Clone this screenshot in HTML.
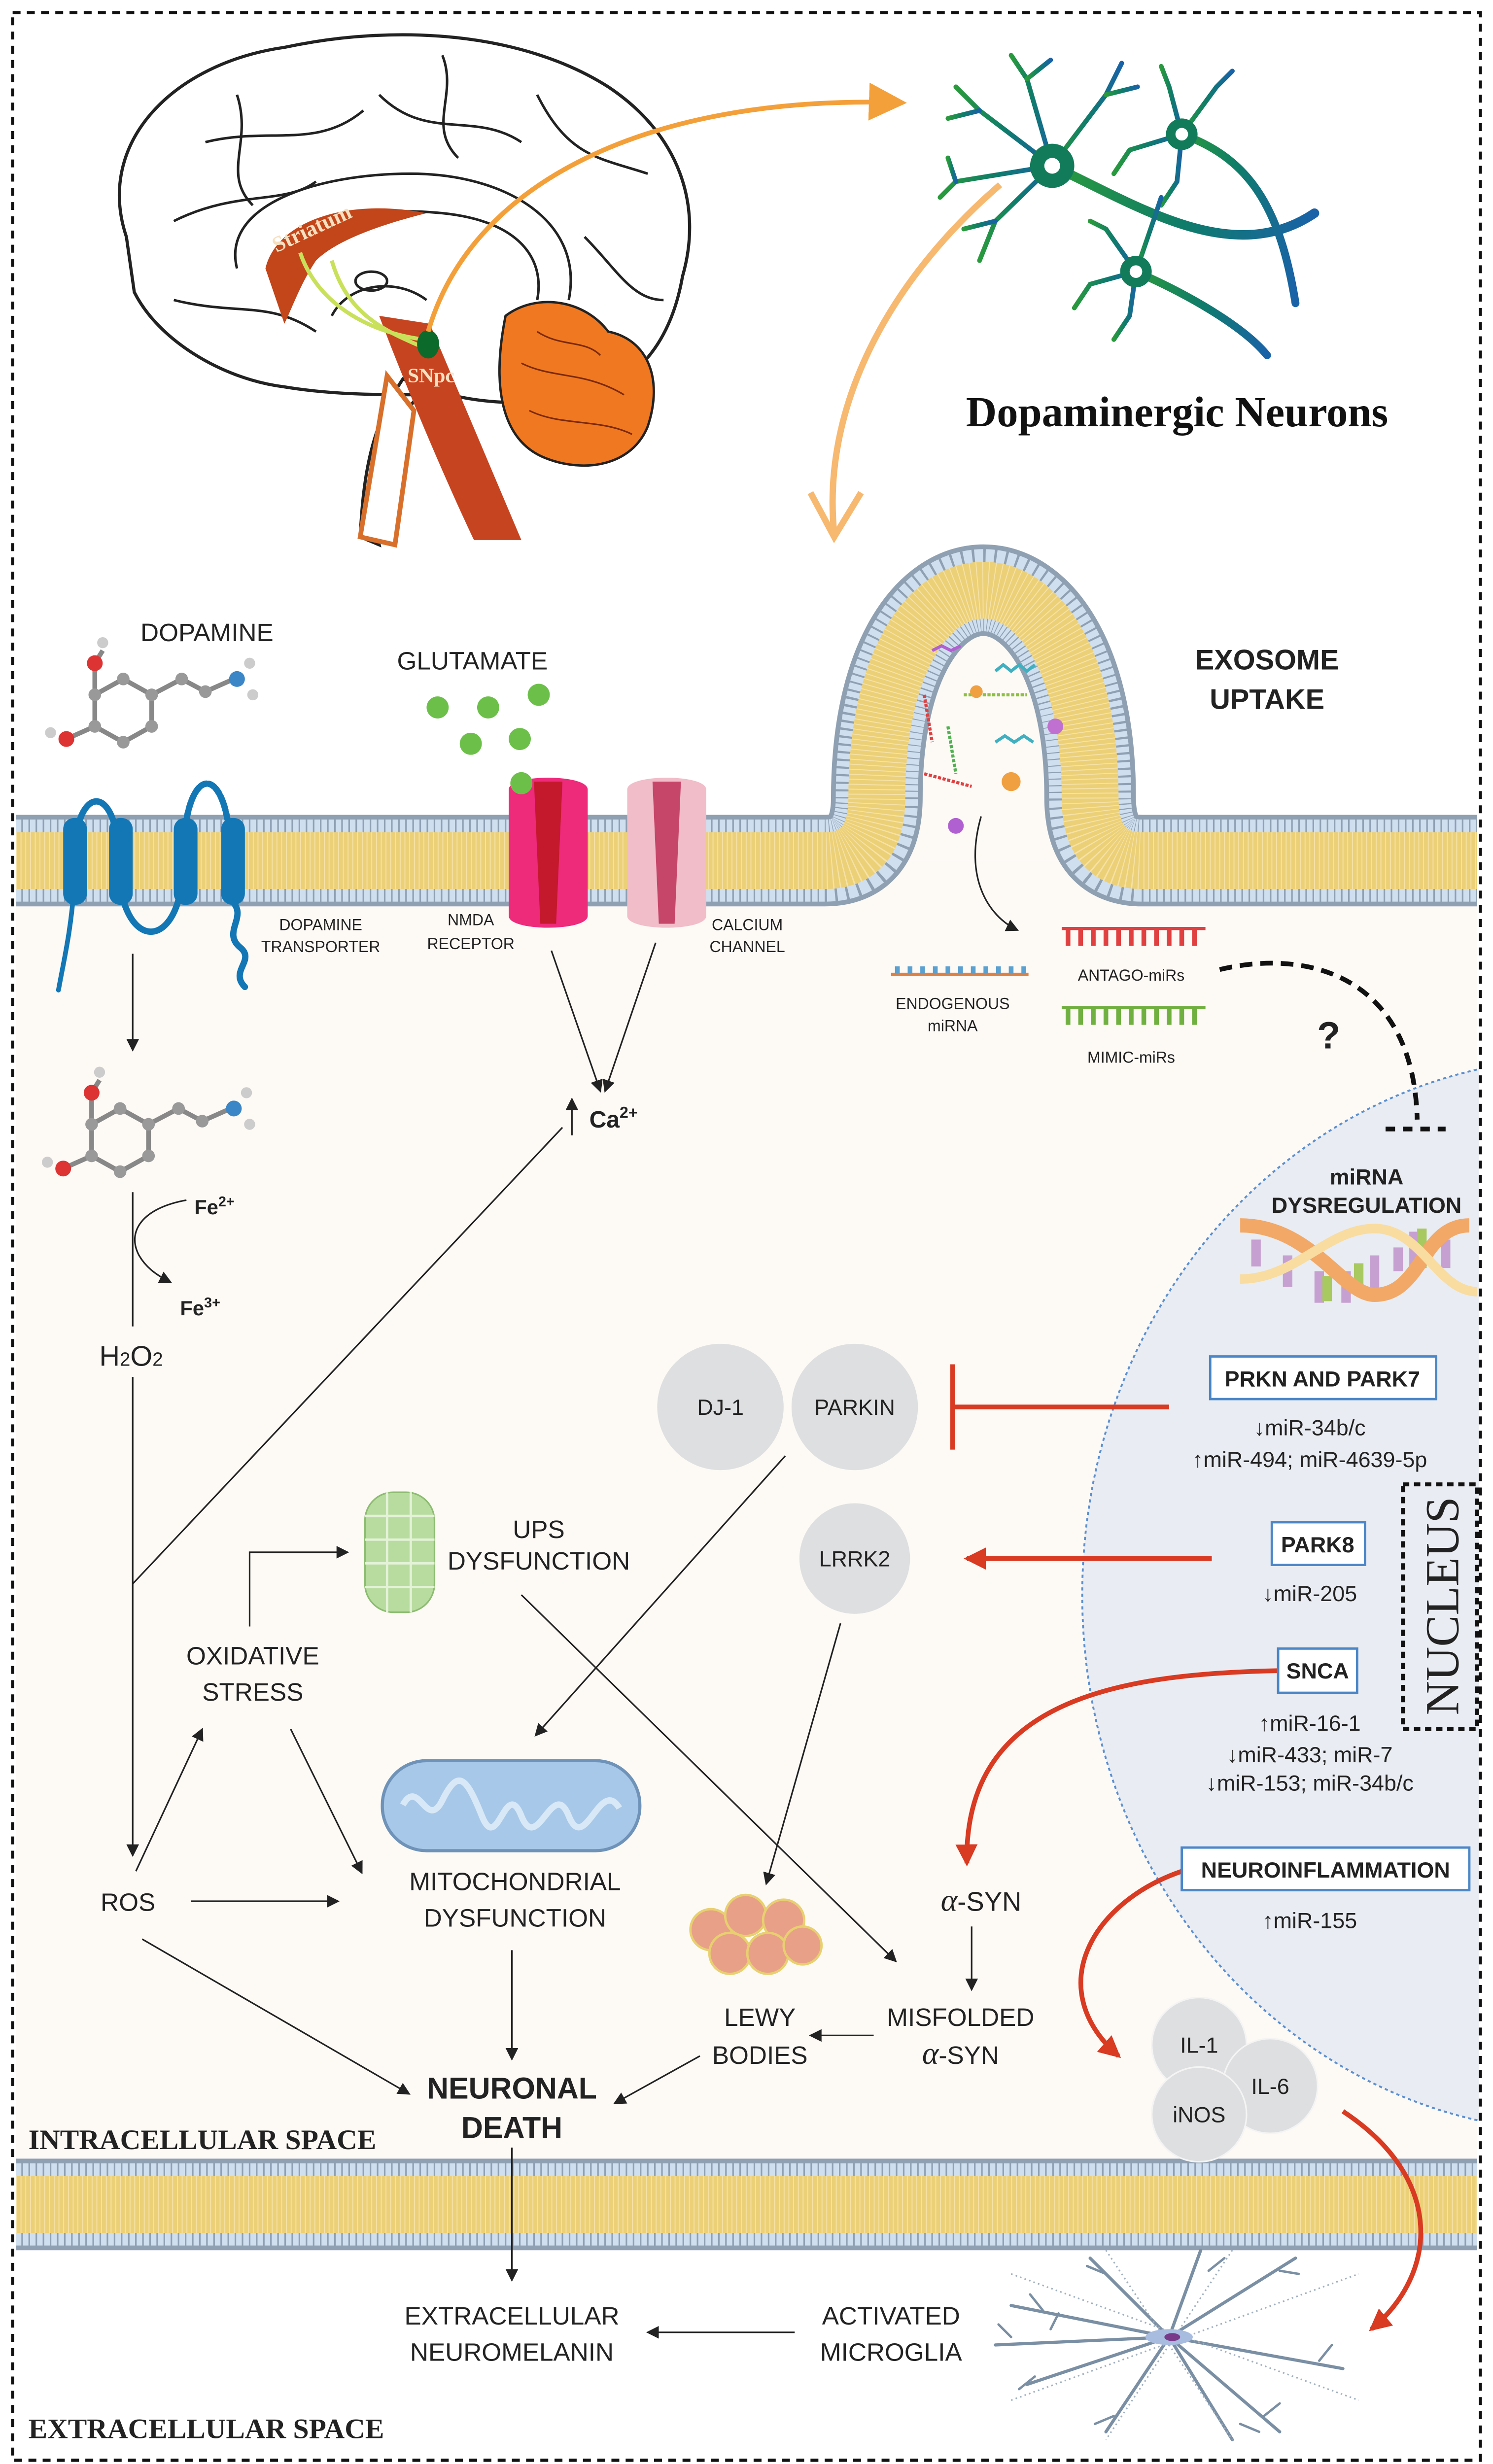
<!DOCTYPE html>
<html><head><meta charset="utf-8"><style>
html,body{margin:0;padding:0;background:#fff;width:3029px;height:5018px;overflow:hidden}
svg{display:block}
text{font-family:"Liberation Sans",sans-serif;fill:#222}
.s{font-family:"Liberation Serif",serif;font-weight:bold}
.l{font-size:16px;text-anchor:middle}
.sm{font-size:10px;text-anchor:middle}
.b{font-weight:bold}
</style></head><body>
<svg width="3029" height="5018" viewBox="0 0 945 1566" preserveAspectRatio="none" xmlns="http://www.w3.org/2000/svg">
<defs>
<marker id="a" markerWidth="8" markerHeight="8" refX="7" refY="4" orient="auto" markerUnits="userSpaceOnUse"><path d="M0,0 L8,4 L0,8 Z" fill="#222"/></marker>
<marker id="r" markerWidth="14" markerHeight="14" refX="12" refY="7" orient="auto" markerUnits="userSpaceOnUse"><path d="M0,0 L14,7 L0,14 Z" fill="#d93a22"/></marker>
<marker id="o" markerWidth="24" markerHeight="24" refX="20" refY="12" orient="auto" markerUnits="userSpaceOnUse"><path d="M0,0 L24,12 L0,24 Z" fill="#f4a03a"/></marker>
<linearGradient id="ng" x1="0" x2="1"><stop offset="0" stop-color="#2a9a3c"/><stop offset=".5" stop-color="#0f7c6a"/><stop offset="1" stop-color="#1a62a8"/></linearGradient>
</defs>
<rect width="945" height="1566" fill="#fff"/>
<rect x="10" y="545" width="925" height="851" fill="#fdfaf6"/>
<path d="M555,545 L555,505 C555,330 690,330 690,505 L690,545 Z" fill="#fdfaf6"/>
<clipPath id="nc"><rect x="0" y="0" width="936" height="1566"/></clipPath>
<ellipse cx="1000" cy="1010" rx="315" ry="340" fill="#e9ecf2" stroke="#5b8fd0" stroke-width="1.2" stroke-dasharray="2 2" clip-path="url(#nc)"/>
<rect x="8" y="8" width="929" height="1550" fill="none" stroke="#111" stroke-width="2" stroke-dasharray="5 4"/>

<!-- Brain -->
<g stroke="#222" stroke-width="2" fill="#fff">
<path d="M80,150 C60,90 110,40 180,30 C250,15 330,20 385,55 C430,85 445,130 432,175 C425,215 405,240 375,250 L330,255 C300,255 280,250 255,240 C235,270 230,300 228,340 L240,345 C230,300 250,270 265,250 C240,250 210,250 180,245 C140,240 100,215 85,185 Z"/>
</g>
<g stroke="#222" stroke-width="1.6" fill="none">
<path d="M110,140 C150,120 180,130 200,115"/><path d="M130,90 C170,80 200,95 230,70"/><path d="M240,60 C270,90 300,70 330,90"/><path d="M340,60 C360,100 380,100 410,110"/><path d="M110,190 C150,200 170,190 200,210"/><path d="M370,150 C390,170 400,190 420,190"/><path d="M150,60 C160,90 140,110 160,130"/><path d="M280,35 C290,60 270,80 290,100"/><path d="M150,170 C140,130 200,110 260,110 C320,110 370,140 360,190"/><path d="M175,170 C180,140 230,130 280,135 C330,140 345,165 340,190"/><path d="M210,200 C220,180 250,175 270,190"/><ellipse cx="235" cy="178" rx="10" ry="6"/>
</g>
<path d="M168,170 C175,140 220,125 270,135 C250,140 215,150 200,165 C190,180 185,195 180,205 Z" fill="#c2461a"/>
<path d="M240,200 L272,205 L330,342 L300,342 C280,300 255,240 240,200 Z" fill="#c74420"/>
<path d="M245,238 L228,340 L250,345 L262,260 Z" fill="#fff" stroke="#d8702c" stroke-width="3"/>
<path d="M320,200 C340,185 370,190 385,210 C410,215 420,240 410,270 C400,295 370,300 345,290 C320,280 310,250 320,200 Z" fill="#f07820" stroke="#222" stroke-width="1.5"/>
<g stroke="#7a2a0a" stroke-width="1" fill="none"><path d="M330,230 C350,240 370,235 395,250"/><path d="M335,260 C355,270 380,265 400,275"/><path d="M340,210 C355,220 370,215 380,225"/></g>
<g stroke="#c9e05a" stroke-width="2.5" fill="none"><path d="M190,160 C200,190 230,210 268,215"/><path d="M210,165 C220,200 245,210 268,220"/></g>
<text x="175" y="160" transform="rotate(-25 175 160)" class="s" style="font-size:14px;fill:#f7e0c0">Striatum</text>
<text x="258" y="242" class="s" style="font-size:13px;fill:#f7e0c0">SNpc</text>
<ellipse cx="271" cy="218" rx="7" ry="9" fill="#0c6a2a"/>

<!-- Neurons -->
<g stroke="url(#ng)" fill="none" stroke-linecap="round">
<path d="M666,105 C720,130 780,170 832,135" stroke-width="6"/>
<path d="M748,85 C790,100 810,130 820,192" stroke-width="5"/>
<path d="M719,172 C760,190 790,210 802,225" stroke-width="5"/>
<g stroke-width="3"><path d="M666,105 L620,70 L605,55"/><path d="M620,70 L600,75"/><path d="M666,105 L650,50 L640,35"/><path d="M650,50 L665,38"/><path d="M666,105 L605,115 L595,125"/><path d="M605,115 L600,100"/><path d="M666,105 L630,140 L620,165"/><path d="M630,140 L610,145"/><path d="M666,105 L700,60 L710,40"/><path d="M700,60 L720,55"/>
<path d="M748,85 L740,55 L735,42"/><path d="M748,85 L770,55 L780,45"/><path d="M748,85 L715,95 L705,110"/><path d="M748,85 L745,115 L735,130"/>
<path d="M719,172 L700,145 L690,140"/><path d="M719,172 L730,140 L735,125"/><path d="M719,172 L690,180 L680,195"/><path d="M719,172 L715,200 L705,215"/></g>
</g>
<circle cx="666" cy="105" r="14" fill="#127c5a"/><circle cx="666" cy="105" r="5" fill="#fff"/>
<circle cx="748" cy="85" r="10" fill="#127c5a"/><circle cx="748" cy="85" r="4" fill="#fff"/>
<circle cx="719" cy="172" r="10" fill="#127c5a"/><circle cx="719" cy="172" r="4" fill="#fff"/>
<text x="745" y="270" class="s" style="font-size:27px;text-anchor:middle;fill:#111">Dopaminergic Neurons</text>
<path d="M271,210 C300,110 420,60 570,65" stroke="#f4a03a" stroke-width="3" fill="none" marker-end="url(#o)"/>
<path d="M633,117 C560,180 520,260 528,338" stroke="#f7b870" stroke-width="4" fill="none"/>
<path d="M513,312 L528,340 L545,312" stroke="#f7b870" stroke-width="4" fill="none"/>

<!-- Membranes -->
<g fill="none">
<path d="M10,545 H522 Q555,545 555,505 C555,330 690,330 690,505 Q690,545 723,545 H935" stroke="#8fa0b3" stroke-width="58"/>
<path d="M10,545 H522 Q555,545 555,505 C555,330 690,330 690,505 Q690,545 723,545 H935" stroke="#cfdff0" stroke-width="52" stroke-dasharray="3.5 1"/>
<path d="M10,545 H522 Q555,545 555,505 C555,330 690,330 690,505 Q690,545 723,545 H935" stroke="#ecd078" stroke-width="36"/>
<path d="M10,545 H522 Q555,545 555,505 C555,330 690,330 690,505 Q690,545 723,545 H935" stroke="#f6e2a6" stroke-width="36" stroke-dasharray="0.6 2.4"/>
<path d="M10,1396 H935" stroke="#8fa0b3" stroke-width="58"/>
<path d="M10,1396 H935" stroke="#cfdff0" stroke-width="52" stroke-dasharray="3.5 1"/>
<path d="M10,1396 H935" stroke="#ecd078" stroke-width="36"/>
<path d="M10,1396 H935" stroke="#f6e2a6" stroke-width="36" stroke-dasharray="0.6 2.4"/>
</g>
<g stroke-width="2" fill="none">
<path d="M590,412 l6,-3 l6,3 l6,-3" stroke="#b060d0"/><path d="M630,425 l5,-4 l5,4 l5,-4 l5,4 l5,-4" stroke="#40b0c0"/><path d="M610,440 l40,0" stroke="#8cc040" stroke-dasharray="2 1"/><path d="M585,440 l5,30" stroke="#e04040" stroke-dasharray="2 1"/><path d="M600,460 l5,30" stroke="#50b050" stroke-dasharray="2 1"/><path d="M630,470 l6,-4 l6,4 l6,-4 l6,4" stroke="#40b0c0"/><path d="M585,490 l30,8" stroke="#e04040" stroke-dasharray="2 1"/><circle cx="668" cy="460" r="5" fill="#c070d0" stroke="none"/><circle cx="618" cy="438" r="4" fill="#f0a040" stroke="none"/><circle cx="640" cy="495" r="6" fill="#f0a040" stroke="none"/><circle cx="605" cy="523" r="5" fill="#b060d0" stroke="none"/>
</g>
<path d="M621,517 C610,555 625,580 644,589" stroke="#222" stroke-width="1" fill="none" marker-end="url(#a)"/>

<!-- DAT -->
<g stroke="#1377b5" fill="none" stroke-linecap="round">
<path d="M47,545 C47,495 75,495 75,545" stroke-width="4"/>
<path d="M75,545 C75,605 116,605 116,545" stroke-width="4"/>
<path d="M116,545 C116,480 146,480 146,545" stroke-width="4" stroke-dasharray="4 1.5"/>
<path d="M47,560 C45,590 40,610 37,627" stroke-width="3"/>
<path d="M146,570 C158,580 140,590 152,600 C162,608 145,615 155,625" stroke-width="4"/>
</g>
<g fill="#1377b5"><rect x="40" y="518" width="15" height="55" rx="7"/><rect x="69" y="518" width="15" height="55" rx="7"/><rect x="110" y="518" width="15" height="55" rx="7"/><rect x="140" y="518" width="15" height="55" rx="7"/></g>
<path d="M322,500 C322,490 372,490 372,500 L372,580 C372,590 322,590 322,580 Z" fill="#ee2a7b"/>
<path d="M338,495 L356,495 L352,585 L342,585 Z" fill="#c4182c"/>
<path d="M397,500 C397,490 447,490 447,500 L447,580 C447,590 397,590 397,580 Z" fill="#f0bdc8"/>
<path d="M413,495 L431,495 L427,585 L417,585 Z" fill="#c6466a"/>
<g fill="#6cc04a"><circle cx="277" cy="448" r="7"/><circle cx="309" cy="448" r="7"/><circle cx="341" cy="440" r="7"/><circle cx="298" cy="471" r="7"/><circle cx="329" cy="468" r="7"/><circle cx="330" cy="496" r="7"/></g>

<g id="mol">
<g stroke="#888" stroke-width="3" fill="none"><path d="M60,440 L78,430 L96,440 L96,460 L78,470 L60,460 Z"/><path d="M96,440 L115,430 L130,438 L148,430"/><path d="M60,440 L60,420 L65,412"/><path d="M60,460 L42,468"/></g>
<circle cx="60" cy="420" r="5" fill="#d33"/><circle cx="65" cy="407" r="3.5" fill="#ccc"/><circle cx="42" cy="468" r="5" fill="#d33"/><circle cx="32" cy="464" r="3.5" fill="#ccc"/><circle cx="150" cy="430" r="5" fill="#3b86c6"/><circle cx="158" cy="420" r="3.5" fill="#ccc"/><circle cx="160" cy="440" r="3.5" fill="#ccc"/>
<g fill="#999"><circle cx="78" cy="430" r="4"/><circle cx="96" cy="440" r="4"/><circle cx="96" cy="460" r="4"/><circle cx="78" cy="470" r="4"/><circle cx="60" cy="440" r="4"/><circle cx="60" cy="460" r="4"/><circle cx="115" cy="430" r="4"/><circle cx="130" cy="438" r="4"/></g>
</g>
<use href="#mol" transform="translate(-2,272)"/>

<text x="131" y="406" class="l">DOPAMINE</text>
<text x="299" y="424" class="l">GLUTAMATE</text>
<text x="802" y="424" class="l b" style="font-size:18px">EXOSOME</text>
<text x="802" y="449" class="l b" style="font-size:18px">UPTAKE</text>
<text x="203" y="589" class="sm">DOPAMINE</text><text x="203" y="603" class="sm">TRANSPORTER</text>
<text x="298" y="586" class="sm">NMDA</text><text x="298" y="601" class="sm">RECEPTOR</text>
<text x="473" y="589" class="sm">CALCIUM</text><text x="473" y="603" class="sm">CHANNEL</text>
<text x="603" y="639" class="sm">ENDOGENOUS</text><text x="603" y="653" class="sm">miRNA</text>
<text x="716" y="621" class="sm">ANTAGO-miRs</text><text x="716" y="673" class="sm">MIMIC-miRs</text>
<g stroke-width="3"><path d="M564,617 H651" stroke="#e08040" stroke-width="2"/><path d="M568,617 v-10 M576,617 v-10 M584,617 v-10 M592,617 v-10 M600,617 v-10 M608,617 v-10 M616,617 v-10 M624,617 v-10 M632,617 v-10 M640,617 v-10 M648,617 v-10" stroke="#5aa0d0" stroke-dasharray="5 5"/>
<path d="M672,588 H763" stroke="#e04040" stroke-width="2"/><path d="M676,588 v11 M684,588 v11 M692,588 v11 M700,588 v11 M708,588 v11 M716,588 v11 M724,588 v11 M732,588 v11 M740,588 v11 M748,588 v11 M756,588 v11" stroke="#e04040"/>
<path d="M672,638 H763" stroke="#70b040" stroke-width="2"/><path d="M676,638 v11 M684,638 v11 M692,638 v11 M700,638 v11 M708,638 v11 M716,638 v11 M724,638 v11 M732,638 v11 M740,638 v11 M748,638 v11 M756,638 v11" stroke="#70b040"/></g>
<path d="M772,614 C830,600 895,620 897,709" stroke="#111" stroke-width="3" fill="none" stroke-dasharray="8 5"/>
<path d="M877,715 H915" stroke="#111" stroke-width="3" stroke-dasharray="6 5"/>
<text x="841" y="664" class="l b" style="font-size:24px">?</text>

<g stroke="#222" stroke-width="1" fill="none">
<path d="M84,604 V665" marker-end="url(#a)"/>
<path d="M349,602 L380,691" marker-end="url(#a)"/>
<path d="M415,597 L383,691" marker-end="url(#a)"/>
<path d="M362,719 V696" marker-end="url(#a)"/>
<path d="M84,755 V840"/>
<path d="M118,760 C90,765 80,780 88,795 C92,802 98,807 108,812" marker-end="url(#a)"/>
<path d="M84,872 V1175" marker-end="url(#a)"/>
<path d="M84,1003 L356,714"/>
<path d="M121,1204 H214" marker-end="url(#a)"/>
<path d="M86,1185 L128,1095" marker-end="url(#a)"/>
<path d="M184,1095 L229,1186" marker-end="url(#a)"/>
<path d="M158,1030 V983 H220" marker-end="url(#a)"/>
<path d="M330,1010 L567,1242" marker-end="url(#a)"/>
<path d="M497,922 L339,1099" marker-end="url(#a)"/>
<path d="M532,1028 L485,1193" marker-end="url(#a)"/>
<path d="M324,1235 V1304" marker-end="url(#a)"/>
<path d="M90,1228 L259,1326" marker-end="url(#a)"/>
<path d="M615,1220 V1260" marker-end="url(#a)"/>
<path d="M553,1289 H513" marker-end="url(#a)"/>
<path d="M443,1302 L389,1332" marker-end="url(#a)"/>
<path d="M324,1360 V1444" marker-end="url(#a)"/>
<path d="M503,1477 H410" marker-end="url(#a)"/>
</g>
<text x="373" y="714" style="font-size:15px;font-weight:bold">Ca<tspan dy="-6" font-size="10">2+</tspan></text>
<text x="123" y="769" style="font-size:13px;font-weight:bold">Fe<tspan dy="-5" font-size="9">2+</tspan></text>
<text x="114" y="833" style="font-size:13px;font-weight:bold">Fe<tspan dy="-5" font-size="9">3+</tspan></text>
<text x="83" y="865" class="l" style="font-size:18px">H<tspan font-size="12">2</tspan>O<tspan font-size="12">2</tspan></text>

<circle cx="456" cy="891" r="40" fill="#dedfe0"/><circle cx="541" cy="891" r="40" fill="#dedfe0"/><circle cx="541" cy="987" r="35" fill="#dedfe0"/>
<text x="456" y="896" class="l" style="font-size:14px">DJ-1</text>
<text x="541" y="896" class="l" style="font-size:14px">PARKIN</text>
<text x="541" y="992" class="l" style="font-size:14px">LRRK2</text>
<path d="M740,891 H603 M603,864 V918" stroke="#d93a22" stroke-width="3" fill="none"/>
<path d="M767,987 H612" stroke="#d93a22" stroke-width="3" fill="none" marker-end="url(#r)"/>
<path d="M809,1058 C700,1060 610,1080 612,1180" stroke="#d93a22" stroke-width="3" fill="none" marker-end="url(#r)"/>
<path d="M748,1185 C690,1205 660,1260 708,1302" stroke="#d93a22" stroke-width="3" fill="none" marker-end="url(#r)"/>
<path d="M850,1337 C915,1380 910,1440 868,1475" stroke="#d93a22" stroke-width="3" fill="none" marker-end="url(#r)"/>

<text x="865" y="750" class="l b" style="font-size:14px">miRNA</text>
<text x="865" y="768" class="l b" style="font-size:14px">DYSREGULATION</text>
<g stroke-width="6"><path d="M795,785 v17 M815,795 v20 M835,805 v20 M852,805 v20 M870,795 v22 M895,780 v28 M915,785 v18 M885,790 v15" stroke="#c6a0d0"/><path d="M840,808 v16 M860,800 v15 M900,778 v25" stroke="#a8c860"/></g>
<path d="M785,776 C830,776 850,820 870,820 C900,820 900,776 930,776" stroke="#f2a866" stroke-width="9" fill="none"/>
<path d="M785,810 C820,810 840,778 870,778 C900,778 910,818 935,818" stroke="#f8dca0" stroke-width="6" fill="none"/>
<g fill="#fff" stroke="#4a86c8" stroke-width="1.5">
<rect x="766" y="859" width="143" height="27"/><rect x="805" y="964" width="59" height="27"/><rect x="809" y="1044" width="50" height="28"/><rect x="748" y="1170" width="182" height="27"/></g>
<g class="b" style="font-size:14px;text-anchor:middle">
<text x="837" y="878">PRKN AND PARK7</text><text x="834" y="983">PARK8</text><text x="834" y="1063">SNCA</text><text x="839" y="1189">NEUROINFLAMMATION</text></g>
<g style="font-size:14px;text-anchor:middle">
<text x="829" y="909">↓miR-34b/c</text><text x="829" y="929">↑miR-494; miR-4639-5p</text>
<text x="829" y="1014">↓miR-205</text>
<text x="829" y="1096">↑miR-16-1</text><text x="829" y="1116">↓miR-433; miR-7</text><text x="829" y="1134">↓miR-153; miR-34b/c</text>
<text x="829" y="1221">↑miR-155</text></g>
<rect x="888" y="940" width="47" height="155" fill="none" stroke="#111" stroke-width="2.5" stroke-dasharray="4 3"/>
<text x="923" y="1017" transform="rotate(-90 923 1017)" class="s" style="font-size:30px;text-anchor:middle;font-weight:normal">NUCLEUS</text>

<g fill="#b8dca0" stroke="#8cbc70" stroke-width="1"><rect x="231" y="945" width="44" height="76" rx="18"/></g>
<g stroke="#e4f2d8" stroke-width="1.5" fill="none"><path d="M231,960 H275 M231,975 H275 M231,990 H275 M231,1005 H275 M245,945 V1021 M260,945 V1021"/></g>
<rect x="242" y="1115" width="163" height="57" rx="28" fill="#a7c8e8" stroke="#6f93b8" stroke-width="2"/>
<path d="M255,1143 C265,1125 270,1160 280,1140 S295,1125 305,1150 S320,1125 330,1150 S350,1125 360,1150 S380,1125 392,1145" stroke="#d8e8f6" stroke-width="4" fill="none"/>
<g fill="#e8a088" stroke="#e8d070" stroke-width="1.5"><circle cx="450" cy="1222" r="13"/><circle cx="472" cy="1213" r="13"/><circle cx="496" cy="1216" r="13"/><circle cx="462" cy="1237" r="13"/><circle cx="486" cy="1237" r="13"/><circle cx="508" cy="1232" r="12"/></g>

<g class="l" style="font-size:16px">
<text x="341" y="974">UPS</text><text x="341" y="994">DYSFUNCTION</text>
<text x="160" y="1054">OXIDATIVE</text><text x="160" y="1077">STRESS</text>
<text x="81" y="1210">ROS</text>
<text x="326" y="1197">MITOCHONDRIAL</text><text x="326" y="1220">DYSFUNCTION</text>
<text x="621" y="1210" style="font-size:17px"><tspan font-family="Liberation Serif" font-style="italic" font-size="20">α</tspan>-SYN</text>
<text x="481" y="1283">LEWY</text><text x="481" y="1307">BODIES</text>
<text x="608" y="1283">MISFOLDED</text><text x="608" y="1307"><tspan font-family="Liberation Serif" font-style="italic" font-size="20">α</tspan>-SYN</text>
<text x="324" y="1472">EXTRACELLULAR</text><text x="324" y="1495">NEUROMELANIN</text>
<text x="564" y="1472">ACTIVATED</text><text x="564" y="1495">MICROGLIA</text>
</g>
<text x="324" y="1329" class="l b" style="font-size:19px">NEURONAL</text>
<text x="324" y="1354" class="l b" style="font-size:19px">DEATH</text>
<text x="18" y="1361" class="s" style="font-size:18px">INTRACELLULAR SPACE</text>
<text x="18" y="1544" class="s" style="font-size:18px">EXTRACELLULAR SPACE</text>

<circle cx="759" cy="1295" r="30" fill="#dedfe0" stroke="#f4f4f4"/><circle cx="804" cy="1321" r="30" fill="#dedfe0" stroke="#f4f4f4"/><circle cx="759" cy="1339" r="30" fill="#dedfe0" stroke="#f4f4f4"/>
<g style="font-size:14px;text-anchor:middle"><text x="759" y="1300">IL-1</text><text x="804" y="1326">IL-6</text><text x="759" y="1344">iNOS</text></g>

<g stroke="#7a8fa4" stroke-width="2" fill="none" stroke-linecap="round">
<path d="M740,1480 L640,1460 M740,1480 L650,1510 M740,1480 L690,1430 M740,1480 L700,1540 M740,1480 L760,1425 M740,1480 L780,1545 M740,1480 L820,1430 M740,1480 L850,1500 M740,1480 L810,1540 M740,1480 L630,1485"/>
<path d="M660,1463 l-8,-10 M670,1465 l-5,10 M655,1505 l-10,8 M700,1440 l-12,-5 M705,1530 l-12,5 M765,1438 l10,-8 M785,1535 l12,5 M810,1438 l12,2 M835,1495 l8,-10 M800,1530 l10,-8 M640,1480 l-8,-8" stroke-width="1.5"/>
</g>
<g stroke="#a0b0c0" stroke-width="1" stroke-dasharray="1 2" fill="none"><path d="M640,1440 L860,1520 M640,1520 L860,1440 M700,1425 L780,1545 M780,1425 L700,1545"/></g>
<ellipse cx="740" cy="1480" rx="15" ry="5" fill="#a8bce0"/><ellipse cx="742" cy="1480" rx="5" ry="2.5" fill="#7a3a8a"/>
</svg>
</body></html>
